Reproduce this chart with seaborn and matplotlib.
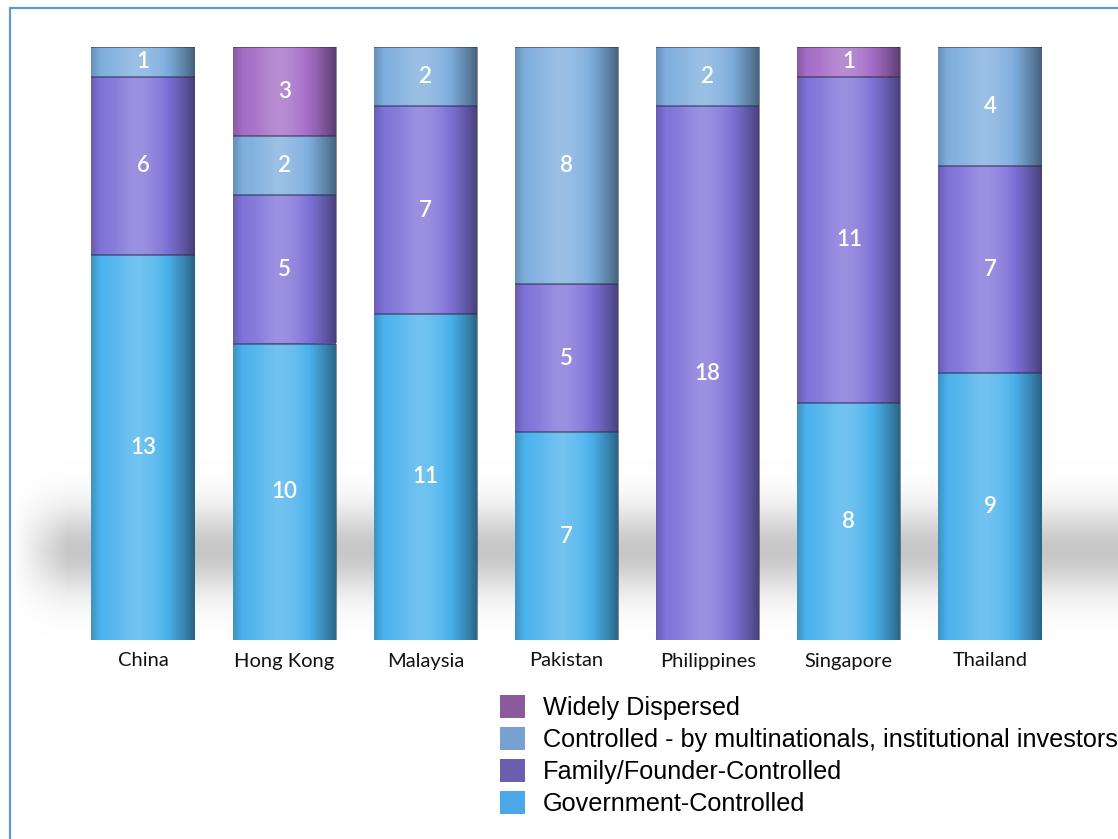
import numpy as np
import pandas as pd
import matplotlib
matplotlib.use("Agg")
import matplotlib.pyplot as plt
import seaborn as sns
from matplotlib.lines import Line2D
from matplotlib.patches import Patch

countries = ["China", "Hong Kong", "Malaysia", "Pakistan", "Philippines", "Singapore", "Thailand"]
government = [13, 10, 11, 7, 0, 8, 9]
family = [6, 5, 7, 5, 18, 11, 7]
controlled = [1, 2, 2, 8, 2, 0, 4]
widely = [0, 3, 0, 0, 0, 1, 0]

series_names = ["Government-Controlled", "Family/Founder-Controlled",
                "Controlled - by multinationals, institutional investors", "Widely Dispersed"]
series_values = [government, family, controlled, widely]
bar_colors = ["#4ab2ec", "#7f72d8", "#7eaede", "#a46cc6"]
legend_colors = ["#4aa8e8", "#6a5eae", "#78a0d2", "#8a5a9a"]

sns.set_theme(style="white")
plt.rcParams["font.family"] = ["Lato", "DejaVu Sans"]

W, H = 1118, 839
fig = plt.figure(figsize=(W / 100, H / 100), dpi=100)

# soft floor shadow (background decoration)
bg = fig.add_axes([0, 0, 1, 1], zorder=0)
bg.set_xlim(0, W)
bg.set_ylim(H, 0)
bg.axis("off")
yy = np.arange(H)[:, None].astype(float)
xx = np.arange(W)[None, :].astype(float)
vert = np.where(yy < 550, np.exp(-((yy - 550.0) / 42.0) ** 2), np.exp(-((yy - 550.0) / 42.0) ** 2))
horiz = np.clip((xx - 12) / 55.0, 0, 1)
shade = 0.22 * vert * horiz
gray = np.round(255 * (1 - shade)).astype(np.uint8)
img = np.repeat(gray[..., None], 3, axis=2)
bg.imshow(img, extent=[0, W, H, 0], aspect="auto", interpolation="nearest")

# frame
fig.add_artist(Line2D([10 / W, 10 / W], [0, 1 - 8 / H], transform=fig.transFigure, color="#5b9bd5", lw=1.6))
fig.add_artist(Line2D([10 / W, 1], [1 - 8 / H, 1 - 8 / H], transform=fig.transFigure, color="#5b9bd5", lw=1.6))

left = 72.4 / W
width = 988.2 / W
bottom = (H - 640) / H
top = (H - 47) / H
ax = fig.add_axes([left, bottom, width, top - bottom], zorder=1)
ax.patch.set_alpha(0)

df = pd.DataFrame({"country": countries})
cum = np.zeros(len(countries))
label_pos = []
for name, vals, col in zip(series_names, series_values, bar_colors):
    vals = np.array(vals, dtype=float)
    df["val"] = vals
    sns.barplot(data=df, x="country", y="val", bottom=cum, color=col, width=0.73,
                ax=ax, saturation=1, edgecolor="none", linewidth=0, errorbar=None)
    for i, v in enumerate(vals):
        if v > 0:
            label_pos.append((i, cum[i] + v / 2, int(v)))
    cum = cum + vals

# cylinder-like shading overlay on each bar segment
t = np.linspace(0, 1, 200)
b = (0.22 * np.exp(-((t - 0.45) / 0.22) ** 2)
     - 0.45 * np.clip((t - 0.64) / 0.36, 0, 1) ** 1.6
     - 0.18 * np.clip((0.10 - t) / 0.10, 0, 1))
rgba = np.zeros((1, len(t), 4))
rgba[0, :, :3] = np.where(b[:, None] > 0, 1.0, 0.0)
rgba[0, :, 3] = np.abs(b)
for p in list(ax.patches):
    x0, y0 = p.get_x(), p.get_y()
    w, h = p.get_width(), p.get_height()
    if h <= 0:
        continue
    im = ax.imshow(rgba, extent=[x0, x0 + w, y0, y0 + h], aspect="auto",
                   interpolation="bilinear", zorder=p.get_zorder() + 0.1)
    im.set_clip_path(p)
    ax.plot([x0, x0 + w], [y0 + h, y0 + h], color="#2a2a50", lw=1.2, alpha=0.6,
            zorder=p.get_zorder() + 0.2, solid_capstyle="butt")

for i, yv, v in label_pos:
    ax.text(i, yv, f"{v}", ha="center", va="center", color="white",
            fontsize=16, fontweight="semibold", zorder=10)

ax.set_xlim(-0.5, 6.5)
ax.set_ylim(0, 20)
ax.set_xlabel("")
ax.set_ylabel("")
ax.set_yticks([])
ax.tick_params(axis="x", length=0, pad=9, labelsize=14.5, colors="#111111")
sns.despine(ax=ax, left=True, bottom=True)

handles = [Patch(facecolor=c, edgecolor="none") for c in legend_colors[::-1]]
labels = series_names[::-1]
fig.legend(handles, labels, loc="upper left", bbox_to_anchor=(500 / W, 1 - 695 / H),
           frameon=False, handlelength=1.0, handleheight=1.0,
           handletextpad=0.7, labelspacing=0.28, borderpad=0, borderaxespad=0,
           labelcolor="black",
           prop={"family": ["Liberation Sans", "DejaVu Sans"], "size": 18.2})

fig.savefig("out.png", dpi=100)
